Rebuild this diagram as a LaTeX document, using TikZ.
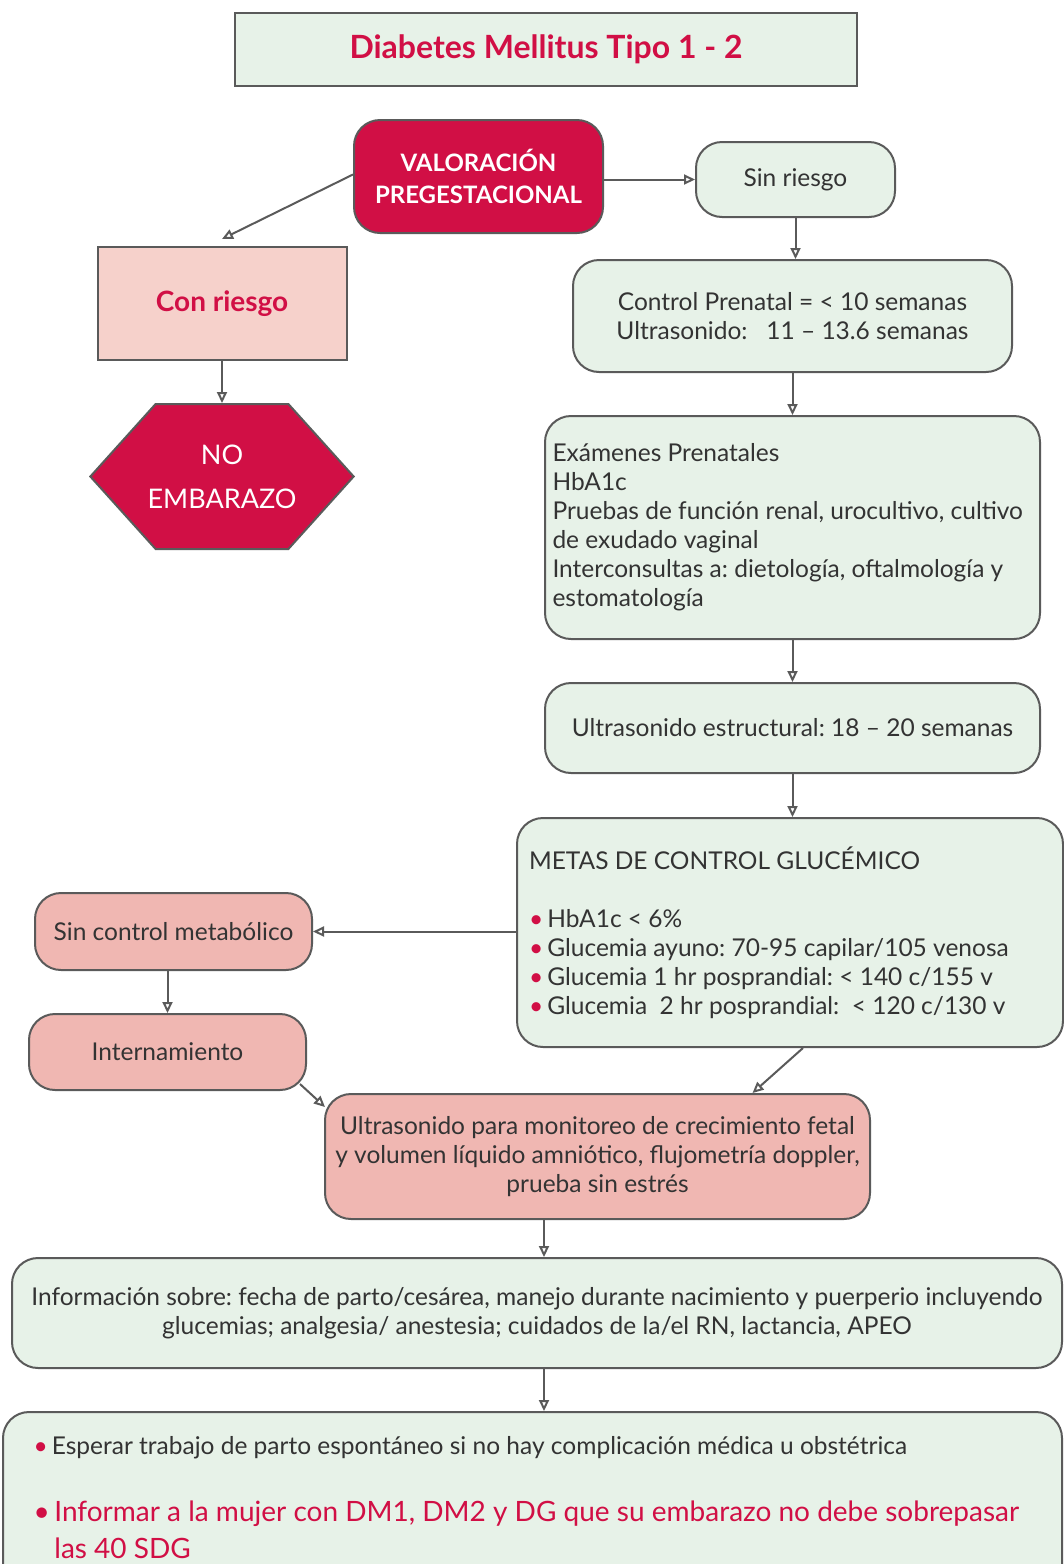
\documentclass[tikz,border=0pt]{standalone}
\usepackage{fontspec}
\setmainfont{Lato}
\usetikzlibrary{arrows.meta,shapes.symbols,positioning}
\definecolor{dmred}{HTML}{D10F45}
\definecolor{boxgreen}{HTML}{E7F2E8}
\definecolor{pinklight}{HTML}{F6D1CB}
\definecolor{salmon}{HTML}{F0B7B2}
\definecolor{edgegray}{HTML}{5A5A5A}
\definecolor{textgray}{HTML}{333333}
\frenchspacing

\begin{document}
\begin{tikzpicture}[x=1pt,y=-1pt,
    every node/.style={font=\fontsize{24.5}{29}\selectfont, text=textgray},
    box/.style={draw=edgegray, line width=2pt, rounded corners=26pt, fill=boxgreen, align=center},
    sharpbox/.style={draw=edgegray, line width=2pt, align=center},
    arr/.style={draw=edgegray, line width=2pt, -{Triangle[open,length=11pt,width=10pt]}}]
        \clip (0,0) rectangle (1064,1564);

        % Title
        \node[sharpbox, fill=boxgreen, minimum width=622pt, minimum height=73pt,
              text=dmred, font=\fontsize{32}{36}\selectfont\bfseries] (title) at (546,49.5) {Diabetes Mellitus Tipo 1 - 2};

        % Top part
        \node[box, fill=dmred, text=white, font=\fontsize{24}{32}\selectfont\bfseries,
              minimum width=249pt, minimum height=113pt] (valor) at (478.5,176.5) {VALORACIÓN\\PREGESTACIONAL};
        \node[box, minimum width=199pt, minimum height=75pt] (sinr) at (795.5,179.5) {Sin riesgo};
        \node[sharpbox, fill=pinklight, text=dmred, font=\fontsize{28}{32}\selectfont\bfseries,
              minimum width=249pt, minimum height=113pt] (conr) at (222,303.5) {Con riesgo};
        \node[signal, signal to=west and east, signal pointer angle=96, draw=edgegray, line width=2pt,
              fill=dmred, text=white, align=center, font=\fontsize{27}{44}\selectfont,
              inner xsep=-8pt, inner ysep=0pt,
              minimum width=263pt, minimum height=145pt] (noemb) at (222,476.5) {NO\\EMBARAZO};

        % Right column
        \node[box, minimum width=439pt, minimum height=112pt] (ctrl) at (792.5,316)
              {Control Prenatal = < 10 semanas\\Ultrasonido:\ \ \ 11 -- 13.6 semanas};
        \node[box, align=flush left, text width=480pt, inner xsep=7.5pt, minimum height=223pt] (exam) at (792.5,527.5)
              {Exámenes Prenatales\\HbA1c\\Pruebas de función renal, urocultivo, cultivo\\de exudado vaginal\\
               Interconsultas a: dietología, oftalmología y\\estomatología};
        \node[box, minimum width=495pt, minimum height=90pt] (ultra) at (792.5,728)
              {Ultrasonido estructural: 18 -- 20 semanas};
        \node[box, align=flush left, text width=522pt, inner xsep=12pt, minimum height=229pt] (metas) at (790,932.5)
              {METAS DE CONTROL GLUCÉMICO\\[29pt]
               {\color{dmred}\textbullet}\,HbA1c < 6\%\\
               {\color{dmred}\textbullet}\,Glucemia ayuno: 70-95 capilar/105 venosa\\
               {\color{dmred}\textbullet}\,Glucemia 1 hr posprandial: < 140 c/155 v\\
               {\color{dmred}\textbullet}\,Glucemia\ \ 2 hr posprandial:\ \ < 120 c/130 v};

        % Left branch
        \node[box, fill=salmon, minimum width=277pt, minimum height=77pt] (sinc) at (173.5,931.5) {Sin control metabólico};
        \node[box, fill=salmon, minimum width=277pt, minimum height=76pt] (intern) at (167.5,1052) {Internamiento};
        \node[box, fill=salmon, minimum width=545pt, minimum height=125pt] (monit) at (597.5,1156.5)
              {Ultrasonido para monitoreo de crecimiento fetal\\y volumen líquido amniótico, flujometría doppler,\\prueba sin estrés};

        % Bottom
        \node[box, minimum width=1050pt, minimum height=110pt] (info) at (537,1313)
              {Información sobre: fecha de parto/cesárea, manejo durante nacimiento y puerperio incluyendo\\
               glucemias; analgesia/ anestesia; cuidados de la/el RN, lactancia, APEO};
        \node[box, minimum width=1059pt, minimum height=180pt] (final) at (532.5,1502) {};
        \node[anchor=west] (espera) at (30,1448)
              {{\color{dmred}\textbullet}\,Esperar trabajo de parto espontáneo si no hay complicación médica u obstétrica};
        \node[anchor=north west, align=flush left, text=dmred, font=\fontsize{28}{37}\selectfont] (informa) at (30,1497)
              {\textbullet\,Informar a la mujer con DM1, DM2 y DG que su embarazo no debe sobrepasar\\
               \phantom{\textbullet\,}las 40 SDG};

        % Connectors
        \draw[arr] (sinr.west -| valor.east) -- (sinr.west);
        \draw[arr] ([yshift=2pt]valor.west) -- ([yshift=7pt]conr.north);
        \draw[arr] (conr.south) -- (noemb.north);
        \draw[arr] (sinr.south) -- (sinr.south |- ctrl.north);
        \draw[arr] (ctrl.south) -- (exam.north);
        \draw[arr] (exam.south) -- (ultra.north);
        \draw[arr] (ultra.south) -- (ultra.south |- metas.north);
        \draw[arr] (sinc.east -| metas.west) -- (sinc.east);
        \draw[arr] ([xshift=-6pt]sinc.south |- sinc.south) -- ([xshift=-6pt]sinc.south |- intern.north);
        \draw[arr] ([shift={(-7,-7)}]intern.south east) -- ([shift={(1,14)}]monit.north west);
        \draw[arr] ([xshift=13pt]metas.south) -- ([xshift=155pt]monit.north);
        \draw[arr] ([xshift=-53.5pt]monit.south) -- ([xshift=-53.5pt]monit.south |- info.north);
        \draw[arr] ([xshift=7pt]info.south) -- ([xshift=7pt]info.south |- final.north);
\end{tikzpicture}
\end{document}
